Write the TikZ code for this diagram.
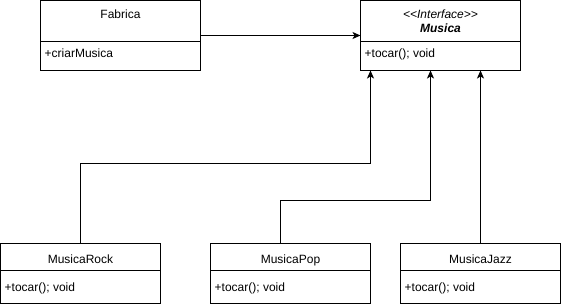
\documentclass[tikz,border=0pt]{standalone}
\usepackage{fontspec}
\setmainfont{Liberation Sans}
\usetikzlibrary{arrows.meta,positioning}

\tikzset{
  cls/.style={draw, line width=1pt, minimum width=160pt, inner sep=0pt, outer sep=0pt, anchor=north west},
  title/.style={inner sep=0pt, anchor=base, align=center, font=\fontsize{12}{14}\selectfont},
  attr/.style={inner sep=0pt, anchor=base west, font=\fontsize{12}{14}\selectfont},
  inherit/.style={line width=1pt, -{Stealth[length=8pt,width=7pt,inset=2pt]}}
}

\begin{document}
\begin{tikzpicture}[x=1pt, y=-1pt]
  \useasboundingbox (0,0) rectangle (561,304);
  % fabrica e interface
  \node[cls, minimum height=70pt] (fabrica) at (40.5,0.5) {};
  \node[cls, minimum height=70pt] (musica) at (360.5,0.5) {};
  \draw ([yshift=-41pt]fabrica.north west) -- ([yshift=-41pt]fabrica.north east);
  \draw ([yshift=-41pt]musica.north west) -- ([yshift=-41pt]musica.north east);
  \node[title] (fabricaNome) at ([yshift=-18.5pt]fabrica.north) {Fabrica};
  \node[attr] (fabricaOp) at ([xshift=4pt,yshift=-57.5pt]fabrica.north west) {+criarMusica};
  % base do no = linha de baixo
  \node[title] (musicaNome) at ([yshift=-32.5pt]musica.north) {\itshape {<}{<}Interface{>}{>}\\\bfseries\itshape Musica};
  \node[attr] (musicaOp) at ([xshift=4pt,yshift=-57.5pt]musica.north west) {+tocar(); void};
  % implementacoes
  \foreach \nome/\txt/\x in {rock/MusicaRock/0.5, pop/MusicaPop/210.5, jazz/MusicaJazz/400.5} {
    \node[cls, minimum height=60pt] (\nome) at (\x,243.5) {};
    \draw ([yshift=-27pt]\nome.north west) -- ([yshift=-27pt]\nome.north east);
    \node[title] (\nome Nome) at ([yshift=-20pt]\nome.north) {\txt};
    \node[attr] (\nome Op) at ([xshift=4pt,yshift=-47.5pt]\nome.north west) {+tocar(); void};
  }
  % ligacoes
  \draw[inherit] (fabrica.east) -- (musica.west);
  \draw[inherit] (rock.north) -- ++(0,-80) -| ([xshift=-70pt]musica.south);
  \draw[inherit] ([xshift=-10pt]pop.north) -- ++(0,-43) -| ([xshift=-10pt]musica.south);
  \draw[inherit] (jazz.north) -- ([xshift=40pt]musica.south);
\end{tikzpicture}
\end{document}
